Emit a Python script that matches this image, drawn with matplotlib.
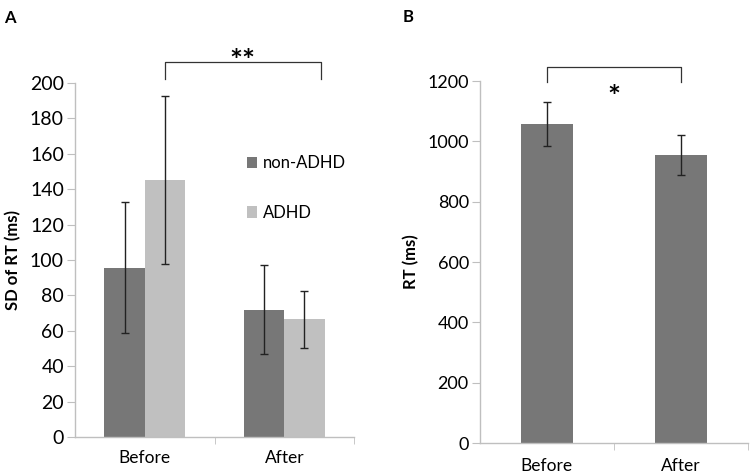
import numpy as np
import matplotlib
matplotlib.use("Agg")
import matplotlib.pyplot as plt
from matplotlib.patches import Patch

plt.rcParams['font.family'] = ['Lato', 'DejaVu Sans']

groups = ["Before", "After"]
series = ["non-ADHD", "ADHD"]
sd_nonadhd = [95.5, 72.0]
sd_nonadhd_err = [37.0, 25.0]
sd_adhd = [145.0, 66.5]
sd_adhd_err = [47.5, 16.0]
rt_mean = [1057, 955]
rt_err = [72, 67]

dark = "#777777"
light = "#c0c0c0"
axcol = "#bfbfbf"

fig = plt.figure(figsize=(7.51, 4.76), dpi=100)
axA = fig.add_axes([0.0999, 0.0819, 0.3715, 0.7437])
axB = fig.add_axes([0.639, 0.0693, 0.357, 0.7605])


def style(ax, ysize, xpad):
    for s in ["top", "right"]:
        ax.spines[s].set_visible(False)
    for s in ["left", "bottom"]:
        ax.spines[s].set_color(axcol)
        ax.spines[s].set_linewidth(1.0)
    ax.tick_params(axis="y", color=axcol, length=6, labelsize=ysize, direction="out", pad=2)
    ax.tick_params(axis="x", which="major", length=0, labelsize=12.5, pad=xpad)
    ax.tick_params(axis="x", which="minor", color=axcol, length=5, direction="out")
    ax.set_xticks([0.5, 1.5], minor=True)


x = np.arange(len(groups))
w = 0.29
ekw = dict(ecolor="#222222", elinewidth=1.0, capsize=3, capthick=1.0)
axA.bar(x - w / 2, sd_nonadhd, w, color=dark, yerr=sd_nonadhd_err, error_kw=ekw, zorder=2)
axA.bar(x + w / 2, sd_adhd, w, color=light, yerr=sd_adhd_err, error_kw=ekw, zorder=2)
axA.set_xlim(-0.5, 1.5)
axA.set_ylim(0, 200)
axA.set_yticks(np.arange(0, 201, 20))
axA.set_xticks(x)
axA.set_xticklabels(groups)
style(axA, 14, 9)
axA.set_ylabel("SD of RT (ms)", fontsize=12, fontweight="bold", labelpad=6)

# significance bracket A
axA.plot([0.145, 0.145, 1.26, 1.26], [202, 212, 212, 202], color="#333333", lw=0.9, clip_on=False)
axA.text(0.7, 212, "**", ha="center", va="center", fontsize=22, fontweight="bold", clip_on=False)

handles = [Patch(facecolor=dark), Patch(facecolor=light)]
axA.legend(handles, series, loc="center left", bbox_to_anchor=(0.585, 0.703), frameon=False,
           fontsize=12, labelspacing=2.0, handlelength=0.65, handleheight=0.65,
           handletextpad=0.35, borderpad=0)

wb = 0.39
axB.bar(x, rt_mean, wb, color=dark, yerr=rt_err, error_kw=ekw, zorder=2)
axB.set_xlim(-0.5, 1.5)
axB.set_ylim(0, 1200)
axB.set_yticks(np.arange(0, 1201, 200))
axB.set_xticks(x)
axB.set_xticklabels(groups)
style(axB, 13, 11)
axB.set_ylabel("RT (ms)", fontsize=12, fontweight="bold", labelpad=6)

axB.plot([0, 0, 1, 1], [1198, 1247, 1247, 1198], color="#333333", lw=0.9, clip_on=False)
axB.text(0.5, 1143, "*", ha="center", va="center", fontsize=22, fontweight="bold", clip_on=False)

fig.text(4 / 751, 1 - 18 / 476, "A", fontsize=12, fontweight="bold", va="center", ha="left")
fig.text(403 / 751, 1 - 17 / 476, "B", fontsize=12, fontweight="bold", va="center", ha="left")

fig.savefig("out.png", dpi=100)
